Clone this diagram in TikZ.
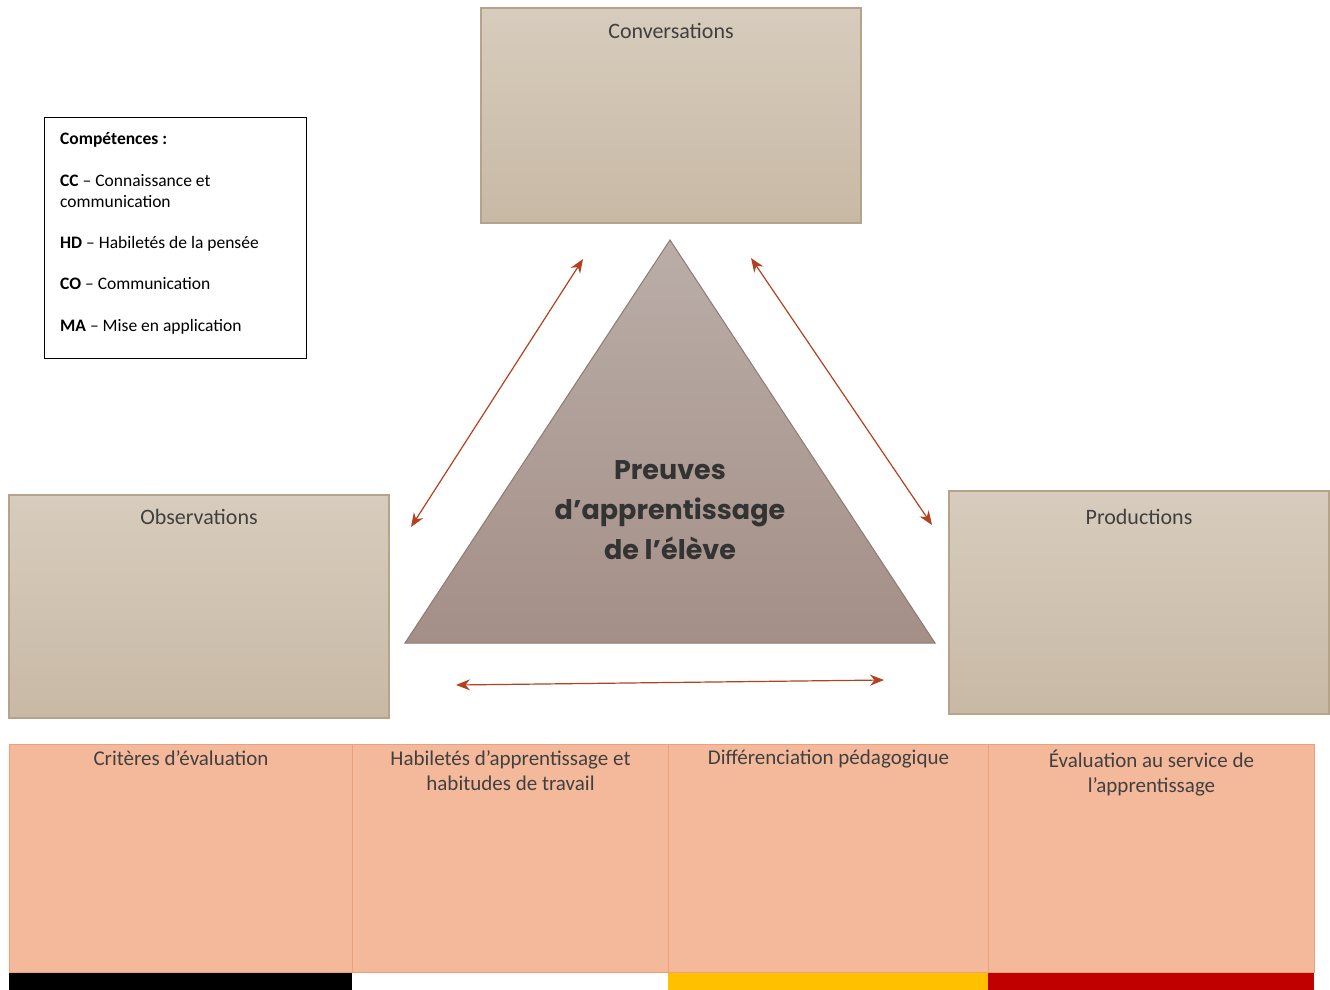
\documentclass[tikz,border=0pt]{standalone}
\usepackage{fontspec}
\setmainfont{Carlito}
\newfontfamily\titlefont{Poppins}
\usetikzlibrary{arrows.meta, positioning}
\definecolor{boxtop}{HTML}{D7CCBD}
\definecolor{boxbot}{HTML}{C8B9A5}
\definecolor{boxline}{HTML}{B5A48A}
\definecolor{tritop}{HTML}{BAADA8}
\definecolor{tribot}{HTML}{A48F87}
\definecolor{triline}{HTML}{8C7A73}
\definecolor{arrowred}{HTML}{B3411F}
\definecolor{critfill}{HTML}{F4B99B}
\definecolor{critline}{HTML}{EEA07C}
\definecolor{gold}{HTML}{FFC000}
\definecolor{darkred}{HTML}{C00000}
\definecolor{textgray}{HTML}{404040}
\definecolor{titlegray}{HTML}{333333}
\tikzset{
    evbox/.style = {draw=boxline, line width=1.2pt, top color=boxtop,
        bottom color=boxbot, minimum width=380pt, inner sep=0pt},
    evtitle/.style = {inner sep=0pt, text=textgray,
        font=\fontsize{22}{26}\selectfont},
    critbox/.style = {draw=critline, line width=1pt, fill=critfill,
        minimum height=228pt, inner sep=0pt, anchor=north west},
    crittitle/.style = {inner sep=0pt, text=textgray, align=center,
        font=\fontsize{21}{25}\selectfont},
    bar/.style = {minimum height=17pt, inner sep=0pt, anchor=north west},
    arr/.style = {{Stealth[length=14pt,width=11pt]}-{Stealth[length=14pt,width=11pt]},
        draw=arrowred, line width=1.2pt},
}
\begin{document}
\begin{tikzpicture}[x=1pt,y=-1pt]
    \useasboundingbox (0,0) rectangle (1330,990);
    % the three sources of evidence
    \node (conv) [evbox, minimum height=215pt] at (671,115.5) {};
    \node (obs) [evbox, minimum height=223pt] at (199,606.5) {};
    \node (prod) [evbox, minimum height=223pt] at (1139,602.5) {};
    \node (convtxt) [evtitle, below=16pt of conv.north] {Conversations};
    \node (obstxt) [evtitle, below=15pt of obs.north] {Observations};
    \node (prodtxt) [evtitle, below=19pt of prod.north] {Productions};
    % triangle
    \coordinate (apex) at (670,240);
    \coordinate (bl) at (405,643);
    \coordinate (br) at (935,643);
    \draw[draw=triline, line width=1pt, top color=tritop, bottom color=tribot]
        (apex) -- (br) -- (bl) -- cycle;
    \node (tri) [align=center, text=titlegray,
        font=\titlefont\bfseries\fontsize{27}{40}\selectfont] at (670,510)
        {Preuves\\d’apprentissage\\de l’élève};
    % arrows
    \coordinate (l1) at (583,259);
    \coordinate (l2) at (411,527);
    \coordinate (r1) at (751,258);
    \coordinate (r2) at (932,525);
    \coordinate (b1) at (456,685);
    \coordinate (b2) at (884,680);
    \draw[arr] (l1) -- (l2);
    \draw[arr] (r1) -- (r2);
    \draw[arr] (b1) -- (b2);
    % legend
    \node (legend) [draw=black, line width=1.2pt, fill=white, minimum width=262pt,
        minimum height=241pt, anchor=north west, inner sep=0pt] at (44,117) {};
    \node (legtxt) [anchor=north west, align=left, inner sep=0pt,
        font=\fontsize{17.5}{21}\selectfont] at (60,132)
        {\textbf{Compétences :}\\[21pt]
         \textbf{CC} – Connaissance et\\communication\\[20pt]
         \textbf{HD} – Habiletés de la pensée\\[20pt]
         \textbf{CO} – Communication\\[21pt]
         \textbf{MA} – Mise en application};
    % bottom table
    \node (c1) [critbox, minimum width=343pt] at (9,744) {};
    \node (c2) [critbox, minimum width=316pt] at (352,744) {};
    \node (c3) [critbox, minimum width=320pt] at (668,744) {};
    \node (c4) [critbox, minimum width=326pt] at (988,744) {};
    \node (t1) [crittitle, below=6pt of c1.north] {Critères d’évaluation};
    \node (t2) [crittitle, below=6pt of c2.north] {Habiletés d’apprentissage et\\habitudes de travail};
    \node (t3) [crittitle, below=6pt of c3.north] {Différenciation pédagogique};
    \node (t4) [crittitle, below=6pt of c4.north] {Évaluation au service de\\l’apprentissage};
    \node (k1) [bar, fill=black, minimum width=343pt] at (c1.south west) {};
    \node (k2) [bar, fill=white, minimum width=316pt] at (c2.south west) {};
    \node (k3) [bar, fill=gold, minimum width=320pt] at (c3.south west) {};
    \node (k4) [bar, fill=darkred, minimum width=326pt] at (c4.south west) {};
\end{tikzpicture}
\end{document}
